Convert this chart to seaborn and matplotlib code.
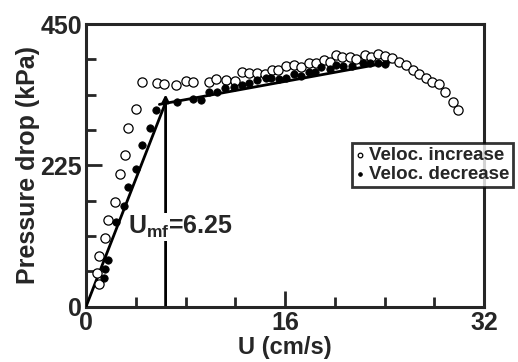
import matplotlib
matplotlib.use("Agg")
import matplotlib.pyplot as plt
from matplotlib.ticker import MultipleLocator
import pandas as pd
import seaborn as sns

# open circles: velocity increase
u_inc = [1.07, 0.91, 1.02, 1.50, 1.77, 2.36, 2.71, 3.11, 3.40, 4.05, 4.52, 5.68,
         6.27, 7.23, 8.04, 8.63, 9.91, 10.45, 11.23, 11.95, 12.54, 13.13, 13.72,
         14.36, 14.95, 15.43, 16.1, 16.7, 17.3, 17.9, 18.5, 19.1, 19.6, 20.1,
         20.6, 21.2, 21.7, 22.4, 22.9, 23.5, 24.0, 24.6, 25.2, 25.7, 26.3, 26.8,
         27.3, 27.8, 28.4, 28.9, 29.5, 29.9]
p_inc = [36, 53, 80, 109, 138, 167, 212, 242, 285, 314, 357, 356,
         355, 353, 360, 358, 357, 362, 361, 359, 374, 372, 372,
         371, 377, 377, 383, 385, 381, 388, 388, 392, 390, 401,
         398, 397, 394, 401, 397, 402, 399, 396, 389, 385, 377, 370,
         364, 358, 354, 341, 326, 313]

# filled circles: velocity decrease
u_dec = [1.45, 1.50, 1.77, 2.44, 3.05, 3.38, 3.99, 4.52, 5.14, 5.60, 7.34, 8.57,
         9.22, 9.91, 10.55, 11.2, 11.9, 12.54, 13.13, 13.77, 14.47, 14.9, 15.5,
         16.1, 16.7, 17.3, 17.9, 18.4, 18.9, 19.6, 20.1, 20.7, 21.4, 22.3, 22.8,
         23.5, 24.0]
p_dec = [45, 60, 74, 135, 161, 190, 219, 257, 284, 313, 326, 331,
         329, 342, 342, 348, 350, 353, 356, 361, 364, 364, 362,
         364, 370, 367, 374, 373, 381, 378, 385, 383, 383, 388, 388,
         388, 386]

# fitted lines and minimum fluidisation velocity
fit_fixed_u = [0, 6.4]
fit_fixed_p = [0, 325]
fit_fluid_u = [5.9, 24.4]
fit_fluid_p = [322, 389]
umf_line_u = 6.4
umf_line_top = 338
umf_label = "6.25"

sns.set_style("ticks")
plt.rcParams["font.family"] = ["Liberation Sans", "DejaVu Sans"]
plt.rcParams["font.weight"] = "bold"
plt.rcParams["mathtext.fontset"] = "custom"
plt.rcParams["mathtext.rm"] = "Liberation Sans:bold"
plt.rcParams["mathtext.it"] = "Liberation Sans:bold"
plt.rcParams["mathtext.bf"] = "Liberation Sans:bold"

fig = plt.figure(figsize=(5.18, 3.62), dpi=100)
ax = fig.add_axes([86 / 518, 1 - 306.7 / 362, 398 / 518, 282.7 / 362])

df_inc = pd.DataFrame({"U": u_inc, "P": p_inc})
df_dec = pd.DataFrame({"U": u_dec, "P": p_dec})

sns.scatterplot(data=df_inc, x="U", y="P", ax=ax, marker="o", s=44,
                facecolor="white", edgecolor="black", linewidth=0.9,
                zorder=4, label="Veloc. increase")
sns.scatterplot(data=df_dec, x="U", y="P", ax=ax, marker="o", s=28,
                color="black", edgecolor="black", linewidth=0.6,
                zorder=5, label="Veloc. decrease")

ax.plot(fit_fixed_u, fit_fixed_p, color="black", lw=2, zorder=3)
ax.plot(fit_fluid_u, fit_fluid_p, color="black", lw=2, zorder=3)
ax.annotate("", xy=(umf_line_u, umf_line_top), xytext=(umf_line_u, 0),
            arrowprops=dict(arrowstyle="-|>", lw=2, color="black",
                            mutation_scale=10, shrinkA=0, shrinkB=0),
            zorder=1)
ax.text(3.4, 127, r"U$_{\mathrm{mf}}$=" + umf_label,
        fontsize=18, fontweight="bold", ha="left", va="center", zorder=2,
        bbox=dict(facecolor="white", edgecolor="none", pad=0.5))

ax.set_xlim(0, 32)
ax.set_ylim(0, 450)
ax.xaxis.set_major_locator(MultipleLocator(16))
ax.xaxis.set_minor_locator(MultipleLocator(4))
ax.yaxis.set_major_locator(MultipleLocator(225))
ax.yaxis.set_minor_locator(MultipleLocator(56.25))
ax.tick_params(which="major", direction="in", length=11.5, width=2,
               labelsize=18, pad=3)
ax.tick_params(which="minor", direction="in", length=7.5, width=2)
for lab in ax.get_xticklabels() + ax.get_yticklabels():
    lab.set_fontweight("bold")
for sp in ax.spines.values():
    sp.set_linewidth(2.2)
    sp.set_visible(True)

ax.set_xlabel("U (cm/s)", fontsize=17, fontweight="bold", labelpad=1)
ax.set_ylabel("Pressure drop (kPa)", fontsize=18, fontweight="bold", labelpad=0)

leg = ax.legend(loc="upper left", bbox_to_anchor=(352 / 518, 1 - 143 / 362),
                bbox_transform=fig.transFigure, frameon=True, fancybox=False,
                fontsize=13.5, markerscale=0.5, handlelength=0.4,
                handletextpad=0.3, borderpad=0.2, labelspacing=0.1,
                borderaxespad=0)
leg.get_frame().set_edgecolor("black")
leg.get_frame().set_linewidth(2)
leg.set_zorder(10)
for t in leg.get_texts():
    t.set_fontweight("bold")

fig.savefig("out.png", dpi=100)
